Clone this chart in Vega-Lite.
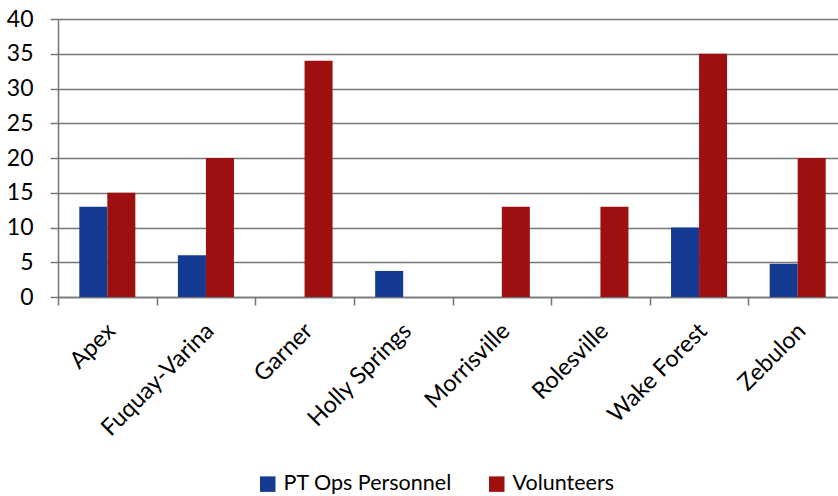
{
  "$schema": "https://vega.github.io/schema/vega-lite/v6.json",
  "autosize": {"type": "none"},
  "padding": {"left": 58, "top": 19, "right": 0, "bottom": 199},
  "width": 789,
  "height": 278,
  "background": "white",
  "config": {"font": "Lato", "view": {"stroke": null}},
  "data": {
    "values": [
      {"town": "Apex", "series": "PT Ops Personnel", "value": 13},
      {"town": "Apex", "series": "Volunteers", "value": 15},
      {"town": "Fuquay-Varina", "series": "PT Ops Personnel", "value": 6},
      {"town": "Fuquay-Varina", "series": "Volunteers", "value": 20},
      {"town": "Garner", "series": "PT Ops Personnel", "value": 0},
      {"town": "Garner", "series": "Volunteers", "value": 34},
      {"town": "Holly Springs", "series": "PT Ops Personnel", "value": 3.75},
      {"town": "Holly Springs", "series": "Volunteers", "value": 0},
      {"town": "Morrisville", "series": "PT Ops Personnel", "value": 0},
      {"town": "Morrisville", "series": "Volunteers", "value": 13},
      {"town": "Rolesville", "series": "PT Ops Personnel", "value": 0},
      {"town": "Rolesville", "series": "Volunteers", "value": 13},
      {"town": "Wake Forest", "series": "PT Ops Personnel", "value": 10},
      {"town": "Wake Forest", "series": "Volunteers", "value": 35},
      {"town": "Zebulon", "series": "PT Ops Personnel", "value": 4.8},
      {"town": "Zebulon", "series": "Volunteers", "value": 20}
    ]
  },
  "mark": {"type": "bar"},
  "encoding": {
    "x": {
      "field": "town",
      "type": "nominal",
      "sort": null,
      "scale": {"paddingInner": 0, "paddingOuter": 0},
      "axis": {
        "title": null,
        "labelAngle": -45,
        "labelAlign": "right",
        "labelBaseline": "middle",
        "tickBand": "extent",
        "tickSize": 8,
        "tickColor": "#767676",
        "tickWidth": 1.5,
        "domainColor": "#767676",
        "domainWidth": 1.5,
        "labelFontSize": 23.5,
        "labelColor": "#000000",
        "labelPadding": 22,
        "labelOffset": 4,
        "grid": false
      }
    },
    "xOffset": {
      "field": "series",
      "sort": ["PT Ops Personnel", "Volunteers"],
      "scale": {"paddingInner": 0, "paddingOuter": 0.76}
    },
    "y": {
      "field": "value",
      "type": "quantitative",
      "scale": {"domain": [0, 40], "nice": false},
      "axis": {
        "title": null,
        "values": [0, 5, 10, 15, 20, 25, 30, 35, 40],
        "grid": true,
        "gridColor": "#767676",
        "gridWidth": 1.5,
        "tickSize": 8,
        "tickColor": "#767676",
        "tickWidth": 1.5,
        "domainColor": "#767676",
        "domainWidth": 1.5,
        "labelFontSize": 23,
        "labelColor": "#000000",
        "labelPadding": 17
      }
    },
    "color": {
      "field": "series",
      "type": "nominal",
      "scale": {
        "domain": ["PT Ops Personnel", "Volunteers"],
        "range": ["#143b91", "#9e0f0f"]
      },
      "legend": {
        "title": null,
        "orient": "none",
        "legendX": 199,
        "legendY": 454,
        "direction": "horizontal",
        "symbolType": "square",
        "symbolSize": 240,
        "symbolStrokeWidth": 0,
        "labelFontSize": 21.5,
        "labelColor": "#000000",
        "labelLimit": 400,
        "labelOffset": 5,
        "columnPadding": 34
      }
    }
  }
}
